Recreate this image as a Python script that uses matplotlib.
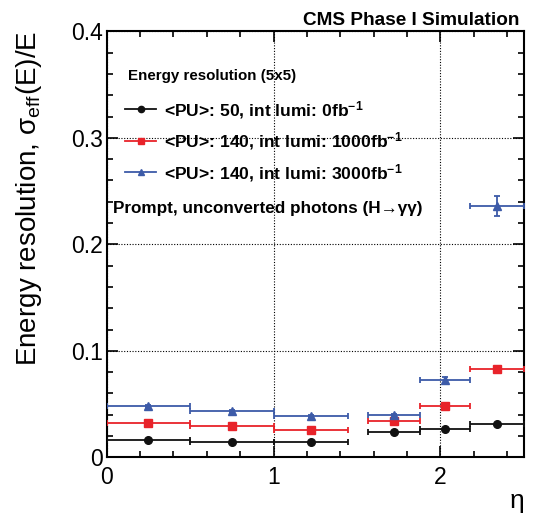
import matplotlib
matplotlib.use("Agg")
import matplotlib.pyplot as plt
import numpy as np
from matplotlib.lines import Line2D
from matplotlib.ticker import MultipleLocator

plt.rcParams['font.family'] = ['Liberation Sans', 'DejaVu Sans']
plt.rcParams['mathtext.fontset'] = 'custom'
plt.rcParams['mathtext.rm'] = 'Liberation Sans'
plt.rcParams['mathtext.it'] = 'Liberation Sans:italic'
plt.rcParams['mathtext.bf'] = 'Liberation Sans:bold'

# eta bins
eta_lo = np.array([0.0, 0.5, 1.0, 1.566, 1.875, 2.18])
eta_hi = np.array([0.5, 1.0, 1.444, 1.875, 2.18, 2.5])

# effective resolution per series
res_pu50 = np.array([0.0163, 0.0147, 0.0147, 0.0238, 0.0266, 0.0310])
err_pu50 = np.array([0.0004, 0.0004, 0.0004, 0.0005, 0.0006, 0.0007])
res_pu140_1000 = np.array([0.0322, 0.0290, 0.0260, 0.0344, 0.0485, 0.0832])
err_pu140_1000 = np.array([0.0006, 0.0006, 0.0006, 0.0008, 0.0010, 0.0012])
res_pu140_3000 = np.array([0.0485, 0.0435, 0.0388, 0.0397, 0.0726, 0.2360])
err_pu140_3000 = np.array([0.0008, 0.0008, 0.0008, 0.0010, 0.0030, 0.0092])

labels = [r"<PU>: 50, int lumi: 0fb$^{\mathbf{-1}}$",
          r"<PU>: 140, int lumi: 1000fb$^{\mathbf{-1}}$",
          r"<PU>: 140, int lumi: 3000fb$^{\mathbf{-1}}$"]
colors = ['#111111', '#e8232a', '#3d5ba8']
markers = ['o', 's', '^']
msizes = [5.5, 6, 5.5]

fig = plt.figure(figsize=(5.34, 5.14), dpi=100)
ax = fig.add_axes([0.1998, 0.1103, 0.7812, 0.8287])

eta_c = (eta_lo + eta_hi) / 2
eta_w = (eta_hi - eta_lo) / 2
series = [(res_pu50, err_pu50), (res_pu140_1000, err_pu140_1000),
          (res_pu140_3000, err_pu140_3000)]
handles = []
for (vals, errs), c, m, ms, lab in zip(series, colors, markers, msizes, labels):
    ax.errorbar(eta_c, vals, xerr=eta_w, yerr=errs, fmt=m, color=c, ms=ms,
                elinewidth=1.3, capsize=2, capthick=1.3, zorder=3)
    handles.append(Line2D([], [], color=c, marker=m, ms=ms - 1, lw=1.3, label=lab))

ax.set_xlim(0, 2.5)
ax.set_ylim(0, 0.4)
ax.xaxis.set_major_locator(MultipleLocator(1))
ax.xaxis.set_minor_locator(MultipleLocator(0.2))
ax.yaxis.set_major_locator(MultipleLocator(0.1))
ax.yaxis.set_minor_locator(MultipleLocator(0.02))
ax.yaxis.set_major_formatter(matplotlib.ticker.FuncFormatter(lambda v, p: '0' if v == 0 else '%.1f' % v))
ax.grid(True, which='major', color='black', linestyle=(0, (1, 1.5)), linewidth=0.8)
ax.tick_params(which='both', direction='in', top=True, right=True, labelsize=16.5, width=1.2)
ax.tick_params(which='major', length=8)
ax.tick_params(which='minor', length=4.5)
ax.tick_params(axis='x', pad=6)
ax.tick_params(axis='y', pad=2.5)
for sp in ax.spines.values():
    sp.set_linewidth(1.5)

ax.set_ylabel("Energy resolution, σ$_{\\mathrm{eff}}$(E)/E", fontsize=20, loc='top', labelpad=20)
ax.set_xlabel("η", fontsize=19, loc='right', labelpad=0)

ax.text(0.051, 0.895, "Energy resolution (5x5)", transform=ax.transAxes,
        fontsize=10.9, fontweight='bold', va='center', ha='left')
leg = ax.legend(handles=handles, loc='upper left', bbox_to_anchor=(0.045, 0.842),
                frameon=False, fontsize=12.6, handlelength=1.75, handletextpad=0.45,
                labelspacing=0.55, borderpad=0, borderaxespad=0)
for t in leg.get_texts():
    t.set_fontweight('bold')

ax.text(0.015, 0.583, "Prompt, unconverted photons (H→γγ)", transform=ax.transAxes,
        fontsize=12.3, fontweight='bold', va='center', ha='left')

fig.text(0.9725, 0.9515, "CMS Phase I Simulation", fontsize=13.7, fontweight='bold', ha='right', va='baseline')

fig.savefig("out.png", dpi=100)
